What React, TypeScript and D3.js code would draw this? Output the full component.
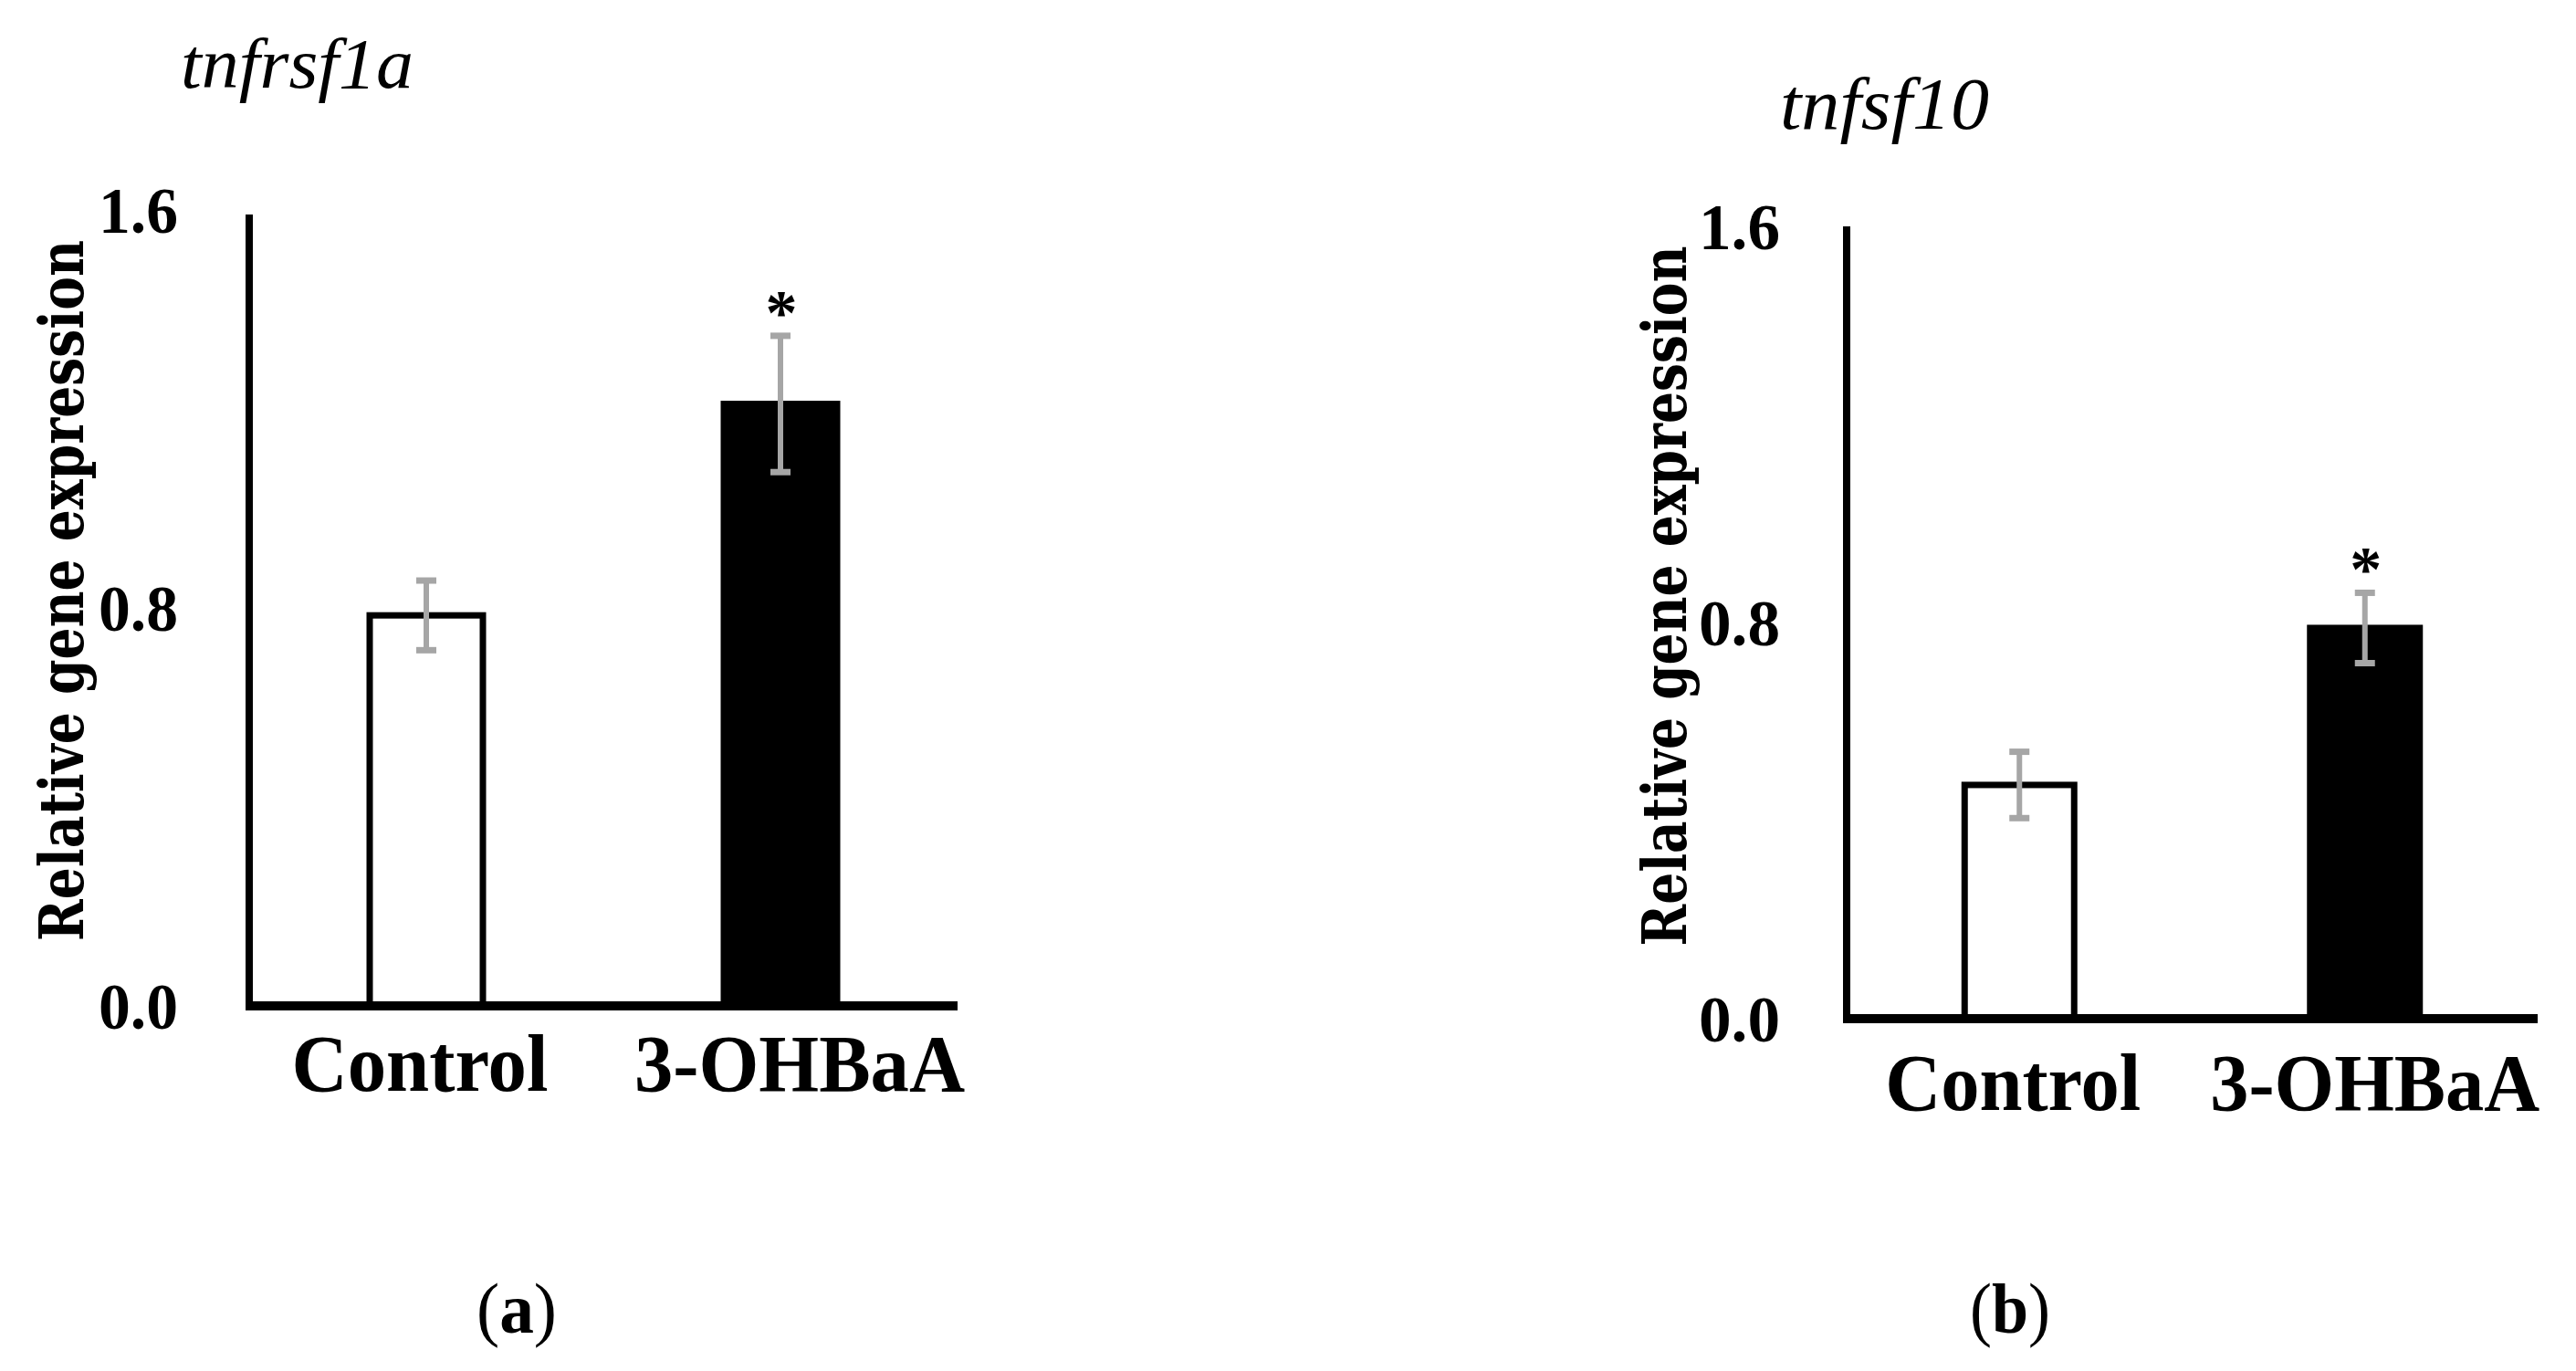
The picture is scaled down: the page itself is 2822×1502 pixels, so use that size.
import React from "react";
import * as d3 from "d3";

const categories = ["Control", "3-OHBaA"];
const panelAValues = [0.785, 1.21];
const panelAErrors = [0.07, 0.137];
const panelBValues = [0.472, 0.789];
const panelBErrors = [0.067, 0.071];
const yTicks = [0, 0.8, 1.6];
const yTickLabels = ["0.0", "0.8", "1.6"];
const significant = [false, true];
const panelTitles = ["tnfrsf1a", "tnfsf10"];
const panelLetters = ["a", "b"];
const yAxisTitle = "Relative gene expression";

type PanelLayout = {
  x0: number; x1: number; yZero: number; yTop: number; axisTop: number;
  titleX: number; titleY: number; titleLen: number; titleSize: number;
  tickRight: number; tickLen: number;
  axisTitleX: number; axisTitleCY: number; axisTitleLen: number;
  catY: number; catLens: number[]; catDx: number[];
  letterX: number; letterY: number;
  barW: number;
};

const layouts: PanelLayout[] = [
  {
    x0: 273, x1: 1049, yZero: 1102, yTop: 230, axisTop: 235,
    titleX: 198, titleY: 96, titleLen: 255, titleSize: 78,
    tickRight: 195, tickLen: 87,
    axisTitleX: 91, axisTitleCY: 647, axisTitleLen: 768,
    catY: 1195, catLens: [281, 362], catDx: [-7, 21],
    letterX: 566, letterY: 1460,
    barW: 124,
  },
  {
    x0: 2023, x1: 2780, yZero: 1116, yTop: 248, axisTop: 248,
    titleX: 1950, titleY: 141, titleLen: 229, titleSize: 80,
    tickRight: 1950, tickLen: 89,
    axisTitleX: 1847, axisTitleCY: 653, axisTitleLen: 767,
    catY: 1216, catLens: [280, 361], catDx: [-7, 11],
    letterX: 2202, letterY: 1460,
    barW: 120,
  },
];

const panelValues = [panelAValues, panelBValues];
const panelErrors = [panelAErrors, panelBErrors];

const serif = "'Liberation Serif', 'Times New Roman', serif";
const ERR = "#a6a6a6";

function Panel({ idx }: { idx: number }) {
  const L = layouts[idx];
  const values = panelValues[idx];
  const errors = panelErrors[idx];
  const y = d3.scaleLinear().domain([0, 1.6]).range([L.yZero, L.yTop]);
  const x = d3.scalePoint<string>().domain(categories).range([L.x0, L.x1]).padding(0.5);

  return (
    <g>
      <text x={L.titleX} y={L.titleY} fontFamily={serif} fontStyle="italic" fontSize={L.titleSize}
        textLength={L.titleLen} lengthAdjust="spacingAndGlyphs">{panelTitles[idx]}</text>

      {categories.map((c, i) => {
        const cx = x(c)!;
        const top = y(values[i]);
        return (
          <rect key={c} x={cx - L.barW / 2} y={top} width={L.barW} height={L.yZero - top}
            fill={i === 0 ? "#ffffff" : "#000000"} stroke="#000" strokeWidth={7} />
        );
      })}

      {categories.map((c, i) => {
        const cx = x(c)!;
        const hi = y(values[i] + errors[i]);
        const lo = y(values[i] - errors[i]);
        return (
          <g key={c + "e"} stroke={ERR} strokeWidth={6}>
            <line x1={cx} x2={cx} y1={hi} y2={lo} />
            <line x1={cx - 11} x2={cx + 11} y1={hi} y2={hi} strokeWidth={7} />
            <line x1={cx - 11} x2={cx + 11} y1={lo} y2={lo} strokeWidth={7} />
            {significant[i] && (
              <text x={cx + 1} y={hi - 2} fill="#000" stroke="none" fontFamily={serif} fontWeight="bold"
                fontSize={70} textAnchor="middle">*</text>
            )}
          </g>
        );
      })}

      <line x1={L.x0} x2={L.x0} y1={L.axisTop} y2={L.yZero + 5} stroke="#000" strokeWidth={8} />
      <line x1={L.x0 - 4} x2={L.x1} y1={L.yZero} y2={L.yZero} stroke="#000" strokeWidth={10} />

      {yTicks.map((t, i) => (
        <text key={t} x={L.tickRight} y={y(t) + 25} textAnchor="end" fontFamily={serif} fontWeight="bold"
          fontSize={72} textLength={L.tickLen} lengthAdjust="spacingAndGlyphs">{yTickLabels[i]}</text>
      ))}

      <text transform={`translate(${L.axisTitleX},${L.axisTitleCY}) rotate(-90)`} textAnchor="middle"
        fontFamily="'DejaVu Serif', serif" fontWeight="bold" fontSize={68}
        textLength={L.axisTitleLen} lengthAdjust="spacingAndGlyphs">{yAxisTitle}</text>

      {categories.map((c, i) => (
        <text key={c + "l"} x={x(c)! + L.catDx[i]} y={L.catY} textAnchor="middle" fontFamily={serif}
          fontWeight="bold" fontSize={89} textLength={L.catLens[i]} lengthAdjust="spacingAndGlyphs">{c}</text>
      ))}

      <text x={L.letterX} y={L.letterY} textAnchor="middle" fontFamily={serif} fontSize={78}
        textLength={88} lengthAdjust="spacingAndGlyphs">
        (<tspan fontWeight="bold">{panelLetters[idx]}</tspan>)
      </text>
    </g>
  );
}

export default function App() {
  return (
    <svg width={2822} height={1502} viewBox="0 0 2822 1502"
      style={{ position: "absolute", left: 0, top: 0, background: "#fff" }}>
      <rect width={2822} height={1502} fill="#fff" />
      <Panel idx={0} />
      <Panel idx={1} />
    </svg>
  );
}
